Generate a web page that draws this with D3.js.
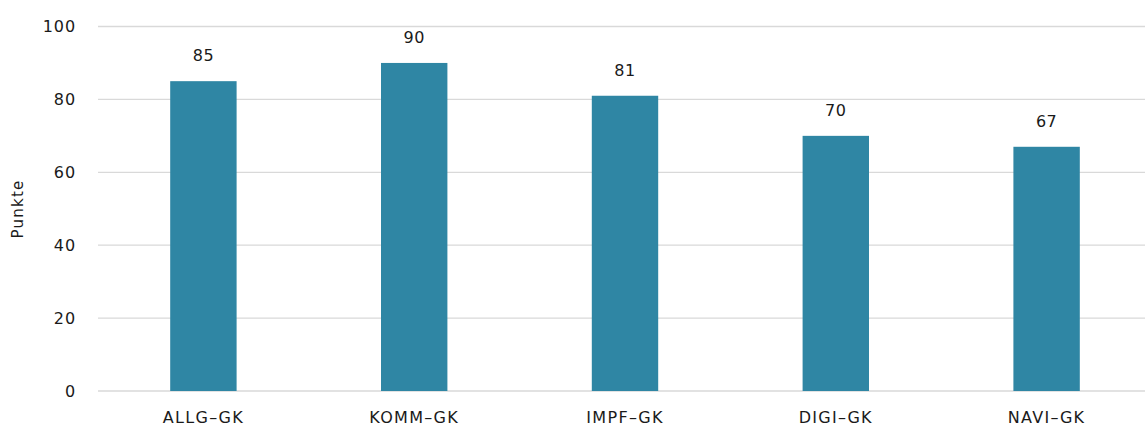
<!DOCTYPE html>
<html>
<head>
<meta charset="utf-8">
<script src="https://cdn.jsdelivr.net/npm/d3@7"></script>
<style>
  html, body { margin: 0; padding: 0; background: #fff; }
  svg { display: block; font-family: "DejaVu Sans", sans-serif; }
</style>
</head>
<body>
<svg id="chart" width="1145" height="428"></svg>
<script>
// Scores per competence area
const categories = ["ALLG\u2013GK", "KOMM\u2013GK", "IMPF\u2013GK", "DIGI\u2013GK", "NAVI\u2013GK"];
const values = [85, 90, 81, 70, 67];
const yTicks = [0, 20, 40, 60, 80, 100];
const yTitle = "Punkte";

const svg = d3.select("#chart");
const plotLeft = 98, plotRight = 1152, plotTop = 26.5, plotBottom = 391;

const x = d3.scaleBand()
  .domain(categories)
  .range([plotLeft, plotRight])
  .paddingInner(0.685)
  .paddingOuter(0.3425);

const y = d3.scaleLinear().domain([0, 100]).range([plotBottom, plotTop]);

// Horizontal grid lines
svg.append("g")
  .selectAll("line")
  .data(yTicks)
  .join("line")
  .attr("x1", plotLeft)
  .attr("x2", 1145)
  .attr("y1", d => y(d))
  .attr("y2", d => y(d))
  .attr("stroke", "#d9d9d9")
  .attr("stroke-width", 1.3);

// Y axis tick labels
const yAxis = d3.axisLeft(y).tickValues(yTicks).tickSize(0).tickPadding(0);
const gy = svg.append("g").attr("transform", `translate(76,0)`).call(yAxis);
gy.select(".domain").remove();
gy.selectAll("text")
  .attr("font-size", 16)
  .attr("font-family", "DejaVu Sans, sans-serif")
  .attr("letter-spacing", "0.9px")
  .attr("fill", "#1a1a1a");

// Y axis title
svg.append("text")
  .attr("transform", `translate(23,209) rotate(-90)`)
  .attr("text-anchor", "middle")
  .attr("font-size", 15)
  .attr("letter-spacing", "1.2px")
  .attr("fill", "#1a1a1a")
  .text(yTitle);

// Bars
svg.append("g")
  .selectAll("rect")
  .data(values)
  .join("rect")
  .attr("x", (d, i) => x(categories[i]))
  .attr("width", x.bandwidth())
  .attr("y", d => y(d))
  .attr("height", d => y(0) - y(d))
  .attr("fill", "#2f86a4");

// Value labels
svg.append("g")
  .selectAll("text")
  .data(values)
  .join("text")
  .attr("x", (d, i) => x(categories[i]) + x.bandwidth() / 2)
  .attr("y", d => y(d) - 20)
  .attr("text-anchor", "middle")
  .attr("font-size", 16)
  .attr("letter-spacing", "0.5px")
  .attr("fill", "#1a1a1a")
  .text(d => d);

// Category labels
const xAxis = d3.axisBottom(x).tickSize(0).tickPadding(0);
const gx = svg.append("g").attr("transform", `translate(0,${plotBottom + 21})`).call(xAxis);
gx.select(".domain").remove();
gx.selectAll("text")
  .attr("font-size", 16)
  .attr("font-family", "DejaVu Sans, sans-serif")
  .attr("letter-spacing", "1.3px")
  .attr("fill", "#1a1a1a");
</script>
</body>
</html>
